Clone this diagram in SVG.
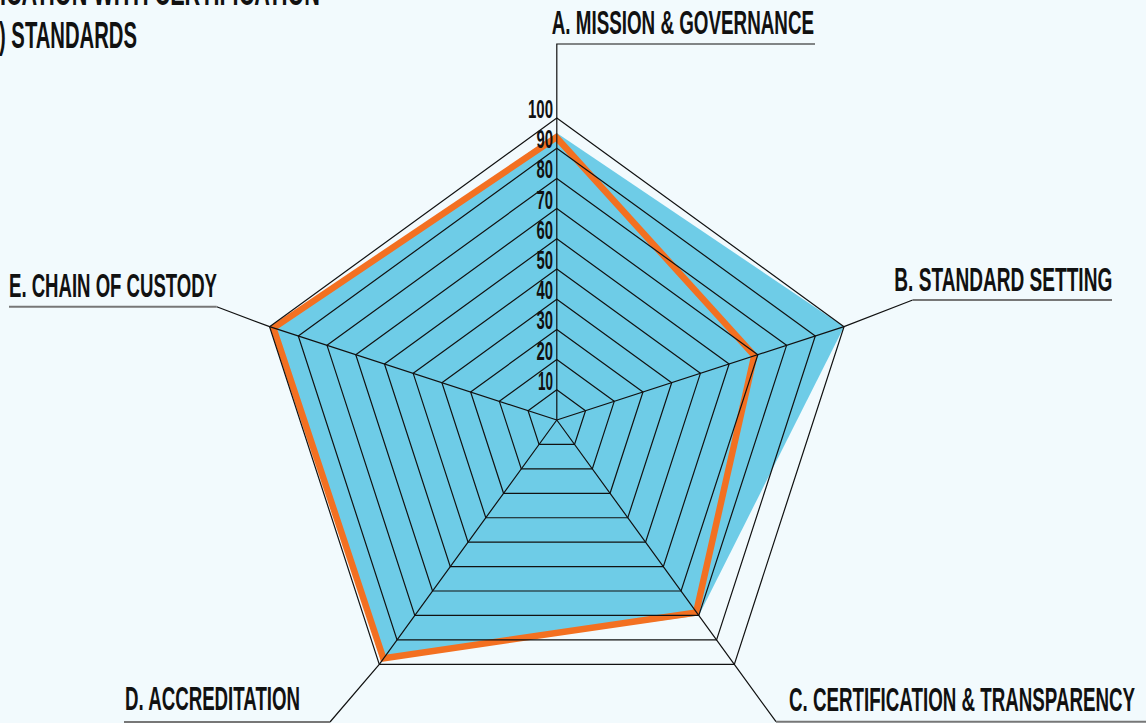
<svg xmlns="http://www.w3.org/2000/svg" width="1146" height="723" viewBox="0 0 1146 723">
<defs>
<style>
.lbl{font-family:"Liberation Sans Narrow","Liberation Sans",Arial,sans-serif;font-weight:bold;fill:#111;}
.ax{font-size:34px;}
.tk{font-size:25px;text-anchor:end;}
.ttl{font-size:36px;}
.ring{fill:none;stroke:#111;stroke-width:1.2;}
.axis{fill:none;stroke:#111;stroke-width:1.2;}
.ul{fill:none;stroke:#777;stroke-width:2;}
</style>
<clipPath id="orClip">
<polygon points="0,-286.9 201.05,-65.32 142.01,195.46 -175.74,241.88 -287.22,-93.32"/>
</clipPath>
</defs>
<rect x="0" y="0" width="1146" height="723" fill="#f2fafd"/>

<g id="title">
<text class="lbl ttl" transform="translate(0 4.5) scale(0.62 1)" x="0" y="0" textLength="516" lengthAdjust="spacingAndGlyphs">ICATION WITH CERTIFICATION</text>
<text class="lbl ttl" transform="translate(-1 47.7) scale(0.62 1)" x="0" y="0" textLength="222.6" lengthAdjust="spacingAndGlyphs">) STANDARDS</text>
</g>

<g id="chart" transform="translate(556.8 420)">
<g id="series-blue">
<polygon points="0,-286.9 287.22,-93.32 142.01,195.46 -172.19,237.0 -281.47,-91.46" fill="#6ecce7"/>
</g>
<g id="series-orange">
<polygon points="0,-286.9 201.05,-65.32 142.01,195.46 -175.74,241.88 -287.22,-93.32" fill="none" stroke="#f37021" stroke-width="13" stroke-linejoin="miter" clip-path="url(#orClip)"/>
</g>
<g id="rings">
<polygon class="ring" points="0,-30.2 28.72,-9.33 17.75,24.43 -17.75,24.43 -28.72,-9.33"/>
<polygon class="ring" points="0,-60.4 57.44,-18.66 35.5,48.86 -35.5,48.86 -57.44,-18.66"/>
<polygon class="ring" points="0,-90.6 86.17,-28.0 53.25,73.3 -53.25,73.3 -86.17,-28.0"/>
<polygon class="ring" points="0,-120.8 114.89,-37.33 71.0,97.73 -71.0,97.73 -114.89,-37.33"/>
<polygon class="ring" points="0,-151 143.61,-46.66 88.76,122.16 -88.76,122.16 -143.61,-46.66"/>
<polygon class="ring" points="0,-181.2 172.33,-55.99 106.51,146.59 -106.51,146.59 -172.33,-55.99"/>
<polygon class="ring" points="0,-211.4 201.05,-65.32 124.26,171.02 -124.26,171.02 -201.05,-65.32"/>
<polygon class="ring" points="0,-241.6 229.78,-74.66 142.01,195.46 -142.01,195.46 -229.78,-74.66"/>
<polygon class="ring" points="0,-271.8 258.5,-83.99 159.76,219.89 -159.76,219.89 -258.5,-83.99"/>
<polygon class="ring" points="0,-302 287.22,-93.32 177.51,244.32 -177.51,244.32 -287.22,-93.32"/>
</g>
</g>

<g id="connectors">
<polyline class="axis" points="556.8,420 556.8,44 815,44"/>
<polyline class="axis" points="556.8,420 844.02,326.68 912.7,300"/>
<line class="ul" x1="912.7" y1="300" x2="1112" y2="300"/>
<polyline class="axis" points="556.8,420 734.31,664.32 776,721.7"/>
<line class="ul" x1="776" y1="721.7" x2="1146" y2="721.7"/>
<polyline class="axis" points="556.8,420 379.29,664.32 330,722"/>
<line class="ul" x1="124" y1="722" x2="330" y2="722"/>
<polyline class="axis" points="556.8,420 269.58,326.68 216.7,306.7"/>
<line class="ul" x1="9" y1="306.7" x2="216.7" y2="306.7"/>
</g>

<g id="ticks">
<text class="lbl tk" x="553" y="118" textLength="25" lengthAdjust="spacingAndGlyphs">100</text>
<text class="lbl tk" x="553" y="148.2" textLength="16.5" lengthAdjust="spacingAndGlyphs">90</text>
<text class="lbl tk" x="553" y="178.4" textLength="16.5" lengthAdjust="spacingAndGlyphs">80</text>
<text class="lbl tk" x="553" y="208.6" textLength="16.5" lengthAdjust="spacingAndGlyphs">70</text>
<text class="lbl tk" x="553" y="238.8" textLength="16.5" lengthAdjust="spacingAndGlyphs">60</text>
<text class="lbl tk" x="553" y="269" textLength="16.5" lengthAdjust="spacingAndGlyphs">50</text>
<text class="lbl tk" x="553" y="299.2" textLength="16.5" lengthAdjust="spacingAndGlyphs">40</text>
<text class="lbl tk" x="553" y="329.4" textLength="16.5" lengthAdjust="spacingAndGlyphs">30</text>
<text class="lbl tk" x="553" y="359.6" textLength="16.5" lengthAdjust="spacingAndGlyphs">20</text>
<text class="lbl tk" x="553" y="389.8" textLength="15" lengthAdjust="spacingAndGlyphs">10</text>
</g>

<g id="node-A"><text class="lbl ax" transform="translate(551.7 34) scale(0.62 1)" x="0" y="0" textLength="423.1" lengthAdjust="spacingAndGlyphs">A. MISSION &amp; GOVERNANCE</text></g>
<g id="node-B"><text class="lbl ax" transform="translate(894.3 291) scale(0.62 1)" x="0" y="0" textLength="351.6" lengthAdjust="spacingAndGlyphs">B. STANDARD SETTING</text></g>
<g id="node-C"><text class="lbl ax" transform="translate(789 710.7) scale(0.62 1)" x="0" y="0" textLength="558.1" lengthAdjust="spacingAndGlyphs">C. CERTIFICATION &amp; TRANSPARENCY</text></g>
<g id="node-D"><text class="lbl ax" transform="translate(125 710) scale(0.62 1)" x="0" y="0" textLength="282.3" lengthAdjust="spacingAndGlyphs">D. ACCREDITATION</text></g>
<g id="node-E"><text class="lbl ax" transform="translate(9 297) scale(0.62 1)" x="0" y="0" textLength="335.5" lengthAdjust="spacingAndGlyphs">E. CHAIN OF CUSTODY</text></g>
</svg>
